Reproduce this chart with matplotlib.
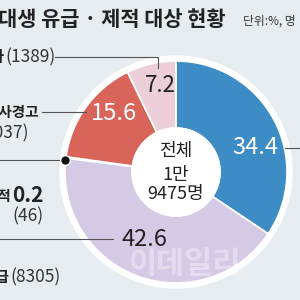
import matplotlib.pyplot as plt
from matplotlib.patches import Circle

plt.rcParams['font.family'] = ['Noto Sans CJK KR', 'DejaVu Sans']

# data (clockwise from 12 o'clock)
shares = [34.4, 42.6, 0.2, 15.6, 7.2]
colors = ['#3d8cc5', '#d4cae5', '#5a4a5a', '#d9645a', '#edcfd9']
names = ['유급', '제적', '학사경고', '기타']
counts = [8305, 46, 3037, 1389]
total_text = ['전체', '1만', '9475명']

bg = '#e7ecf0'
num_font = ['Liberation Sans Narrow', 'Noto Sans CJK KR', 'DejaVu Sans']

fig = plt.figure(figsize=(3, 3), dpi=100, facecolor=bg)
ax = fig.add_axes([0, 0, 1, 1])
ax.set_facecolor(bg)

cx, cy = 176, 128
R = 111

# white outer ring
ax.add_patch(Circle((cx, cy), R + 5, color='white', zorder=0))
ax.pie(shares, colors=colors, startangle=90, counterclock=False,
       radius=R, center=(cx, cy),
       wedgeprops=dict(width=67, edgecolor='white', linewidth=1.2))
ax.add_patch(Circle((cx, cy), R - 67, color='white', zorder=3))

ax.set_xlim(0, 300)
ax.set_ylim(0, 300)
ax.set_aspect('equal')
ax.axis('off')

line = dict(color='#555555', lw=0.8, zorder=4)

# title
ax.text(-21, 280, '의대생 유급 · 제적 대상 현황', fontsize=15, fontweight='bold',
        color='#222222', va='center', ha='left')
ax.text(243, 279, '단위:%, 명', fontsize=8.5, color='#333333', va='center', ha='left')

# center
ax.text(cx, 149, total_text[0], fontsize=13, ha='center', va='center', color='#222222', zorder=5)
ax.text(cx, 125, total_text[1], fontsize=13, ha='center', va='center', color='#222222', zorder=5)
ax.text(cx, 106, total_text[2], fontsize=13, ha='center', va='center', color='#222222', zorder=5)

# wedge values
ax.text(255, 153, f'{shares[0]}', fontsize=17, color='white', ha='center', va='center',
        family=num_font, zorder=5)
ax.plot([285, 300], [152, 152], **line)
ax.text(122, 60, f'{shares[1]}', fontsize=17, color='#222222', ha='left', va='center',
        family=num_font, zorder=5)
ax.plot([0, 113], [61, 61], **line)
ax.text(114, 187, f'{shares[3]}', fontsize=17, color='white', ha='center', va='center',
        family=num_font, zorder=5)
ax.plot([42, 86], [188, 188], **line)
ax.text(160, 214, f'{shares[4]}', fontsize=16, color='#222222', ha='center', va='center',
        family=num_font, zorder=5)
ax.plot([55, 158, 158], [243, 243, 232], **line)
ax.plot([0, 65], [140, 140], **line)
ax.plot([65], [140], 'o', color='#111111', ms=7, mec='white', mew=1, zorder=6)

# side labels
ax.text(4, 243, names[3], fontsize=11, fontweight='bold', ha='right', va='center', color='#222222')
ax.text(5, 243, f'({counts[3]})', fontsize=12.5, ha='left', va='center', color='#333333',
        family=num_font)
ax.text(39, 188, names[2], fontsize=10.5, fontweight='bold', ha='right', va='center', color='#222222')
ax.text(29, 167, f'({counts[2]})', fontsize=12.5, ha='right', va='center', color='#333333',
        family=num_font)
ax.text(11, 104, names[1], fontsize=10.5, fontweight='bold', ha='right', va='center', color='#222222')
ax.text(12, 104, f'{shares[2]}', fontsize=15, fontweight='bold', ha='left', va='center',
        color='#222222', family=num_font)
ax.text(12, 84, f'({counts[1]})', fontsize=12.5, ha='left', va='center', color='#333333',
        family=num_font)
ax.text(9, 23, names[0], fontsize=11, fontweight='bold', ha='right', va='center', color='#222222')
ax.text(10, 23, f'({counts[0]})', fontsize=12.5, ha='left', va='center', color='#333333',
        family=num_font)

# watermark
ax.text(185, 36, '이데일리', fontsize=22, fontweight='bold', color='white', alpha=0.35,
        ha='center', va='center', zorder=5)

fig.savefig('out.png', dpi=100, facecolor=bg)
